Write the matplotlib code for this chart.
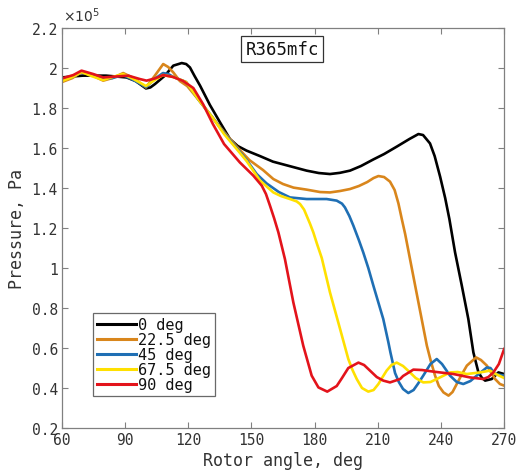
import matplotlib
matplotlib.use("Agg")
import matplotlib.pyplot as plt
from matplotlib.ticker import FuncFormatter

plt.rcParams['font.family'] = ['DejaVu Sans Mono']

# Rotor angle (deg) and pressure (x1e5 Pa)
deg_0 = [60, 65, 70, 81, 90.7, 95, 97, 99.9, 102, 104.2, 108.9, 112.9, 116.9, 119, 120.8, 123, 125.6,
         130.3, 135, 139.8, 143.5, 147.7, 154, 160.2, 168, 176.2, 182, 187.3, 192, 196.8, 202, 207.9,
         213, 219, 225, 229.3, 231.5, 234.8, 237, 239.6, 242, 244, 246.7, 249.9, 253, 255.4, 257.8,
         259.5, 261, 264.1, 267.3, 270]
p_0 = [1.953, 1.958, 1.962, 1.962, 1.953, 1.935, 1.92, 1.898, 1.903, 1.92, 1.962, 2.012, 2.025, 2.02,
       2.003, 1.96, 1.912, 1.815, 1.73, 1.645, 1.61, 1.587, 1.56, 1.532, 1.51, 1.487, 1.475, 1.47,
       1.476, 1.487, 1.51, 1.543, 1.57, 1.607, 1.645, 1.67, 1.665, 1.623, 1.56, 1.457, 1.35, 1.245,
       1.078, 0.912, 0.745, 0.578, 0.478, 0.45, 0.437, 0.445, 0.478, 0.47]

deg_22 = [60, 65, 69.3, 74, 79.6, 84, 89.1, 94, 99.9, 104, 108.1, 110.5, 112.9, 116, 119.5, 125, 131.7,
          137, 143, 149, 155.5, 160.4, 165, 170, 176.2, 182.6, 187.3, 192, 196.8, 201, 205, 208, 210.3,
          213, 215.8, 218, 219.8, 221.4, 223, 225.3, 229.3, 233.3, 235.3, 237.2, 239, 241.2, 243.6,
          245.5, 247.5, 250, 252.3, 256.7, 259, 261.8, 265.7, 268, 270]
p_22 = [1.93, 1.95, 1.98, 1.965, 1.937, 1.95, 1.975, 1.95, 1.903, 1.96, 2.02, 2.005, 1.978, 1.935, 1.91,
        1.84, 1.75, 1.68, 1.607, 1.54, 1.49, 1.445, 1.42, 1.402, 1.392, 1.38, 1.378, 1.385, 1.395, 1.41,
        1.43, 1.45, 1.46, 1.455, 1.432, 1.39, 1.323, 1.245, 1.17, 1.045, 0.828, 0.612, 0.53, 0.462,
        0.41, 0.378, 0.362, 0.38, 0.42, 0.47, 0.512, 0.553, 0.54, 0.512, 0.445, 0.42, 0.412]

deg_45 = [60, 65, 69.3, 74, 79.6, 84, 89, 94, 99.9, 104, 108, 110.5, 113, 119, 125, 131.7, 137, 143,
          147.7, 152.5, 157.2, 163, 168.3, 176.2, 185.7, 190.5, 193, 194.4, 196.5, 198.4, 201,
          203.1, 205.5, 207.9, 212.6, 215, 216, 218.2, 220, 222, 224.5, 227, 229, 231.6, 235, 238,
          240.5, 244.3, 247.5, 250.6, 254, 257, 261.8, 263.5, 265.7, 270]
p_45 = [1.94, 1.955, 1.98, 1.965, 1.945, 1.95, 1.965, 1.94, 1.905, 1.945, 1.975, 1.97, 1.955, 1.93,
        1.84, 1.75, 1.675, 1.6, 1.54, 1.47, 1.423, 1.38, 1.353, 1.345, 1.345, 1.337, 1.322, 1.303,
        1.26, 1.212, 1.14, 1.078, 1.0, 0.912, 0.745, 0.63, 0.578, 0.475, 0.43, 0.395, 0.375, 0.39,
        0.42, 0.462, 0.52, 0.545, 0.52, 0.462, 0.43, 0.42, 0.435, 0.462, 0.503, 0.5, 0.47, 0.462]

deg_67 = [60, 65, 69.3, 74, 79.6, 84, 89, 94, 99.9, 104, 108, 113, 119, 125, 131.7, 137, 143, 147.7,
          154.1, 160.4, 164, 168.3, 171.5, 173.1, 175, 176.2, 177.8, 179.4, 181, 183.4, 187.3, 192.1,
          196, 198, 200, 202.5, 205.5, 208, 210.3, 212, 214.2, 216.5, 219, 222, 225.3, 228, 231.6,
          235, 238, 244.3, 248, 252.3, 258.6, 263.3, 266, 270]
p_67 = [1.935, 1.955, 1.98, 1.96, 1.94, 1.955, 1.97, 1.945, 1.91, 1.94, 1.965, 1.955, 1.93, 1.84, 1.75,
        1.67, 1.595, 1.535, 1.437, 1.378, 1.36, 1.345, 1.333, 1.32, 1.292, 1.262, 1.222, 1.178, 1.125,
        1.05, 0.878, 0.695, 0.545, 0.49, 0.445, 0.4, 0.382, 0.39, 0.42, 0.45, 0.487, 0.515, 0.527,
        0.51, 0.478, 0.45, 0.428, 0.43, 0.445, 0.478, 0.48, 0.47, 0.478, 0.487, 0.47, 0.45]

deg_90 = [60, 65.4, 69.3, 74.9, 79.6, 86, 91.5, 97, 100.2, 104.2, 108.1, 112.9, 117.6, 122.4, 127,
          131.7, 137, 144.5, 150.9, 154.9, 156.9, 158.8, 160.8, 162.8, 165.9, 169.9, 174.6, 178.6,
          181.8, 186, 190.5, 193, 196, 200.8, 203.5, 206.3, 209.5, 212.6, 215.8, 220.6, 222, 226.9,
          231, 236.4, 245.9, 253.8, 260.1, 262.5, 264.9, 267.5, 270]
p_90 = [1.948, 1.965, 1.987, 1.97, 1.953, 1.958, 1.962, 1.945, 1.937, 1.948, 1.965, 1.955, 1.935, 1.9,
        1.82, 1.72, 1.62, 1.528, 1.462, 1.412, 1.37, 1.312, 1.248, 1.178, 1.045, 0.828, 0.612, 0.462,
        0.403, 0.382, 0.41, 0.45, 0.5, 0.527, 0.515, 0.487, 0.455, 0.437, 0.428, 0.445, 0.46, 0.492,
        0.49, 0.482, 0.47, 0.453, 0.445, 0.455, 0.478, 0.52, 0.595]

labels = ['0 deg', '22.5 deg', '45 deg', '67.5 deg', '90 deg']
colors = ['#000000', '#D9861C', '#1F6FB4', '#FFE000', '#E3131B']
x_ticks = [60, 90, 120, 150, 180, 210, 240, 270]
y_ticks = [0.2, 0.4, 0.6, 0.8, 1.0, 1.2, 1.4, 1.6, 1.8, 2.0, 2.2]

series = [(deg_0, p_0), (deg_22, p_22), (deg_45, p_45), (deg_67, p_67), (deg_90, p_90)]

fig = plt.figure(figsize=(5.16, 4.77), dpi=100)
ax = fig.add_axes([0.120, 0.1006, 0.857, 0.8385])

for (x, y), lab, c in zip(series, labels, colors):
    ax.plot(x, y, color=c, lw=1.9, label=lab, solid_joinstyle='round')

ax.set_xlim(60, 270)
ax.set_ylim(0.2, 2.2)
ax.set_xticks(x_ticks)
ax.set_yticks(y_ticks)
ax.yaxis.set_major_formatter(FuncFormatter(lambda v, p: ('%.1f' % v).rstrip('0').rstrip('.')))

for s in ax.spines.values():
    s.set_color('#808080')
    s.set_linewidth(0.9)
ax.tick_params(direction='in', top=True, right=True, length=4, width=0.8, color='#808080',
               labelsize=10.5, labelcolor='#333333', pad=3)

ax.set_xlabel('Rotor angle, deg', fontsize=12, color='#333333', labelpad=3)
ax.set_ylabel('Pressure, Pa', fontsize=12, color='#333333', labelpad=4)

fig.text(0.122, 0.948, r'$\times10^5$', fontsize=10, color='#333333', ha='left', va='bottom',
         family='DejaVu Sans')

ax.text(0.498, 0.948, 'R365mfc', transform=ax.transAxes, ha='center', va='center', fontsize=12.5,
        color='#111111', bbox=dict(boxstyle='square,pad=0.25', fc='white', ec='#333333', lw=0.9))

leg = ax.legend(loc='lower left', bbox_to_anchor=(0.07, 0.08), fontsize=11, handlelength=2.6,
                handletextpad=0.1, labelspacing=0.0, borderpad=0.25, borderaxespad=0,
                fancybox=False, frameon=True)
leg.get_frame().set_edgecolor('#444444')
leg.get_frame().set_linewidth(0.9)
for line in leg.get_lines():
    line.set_linewidth(2.2)
for t in leg.get_texts():
    t.set_color('#111111')

fig.savefig('out.png', dpi=100)
